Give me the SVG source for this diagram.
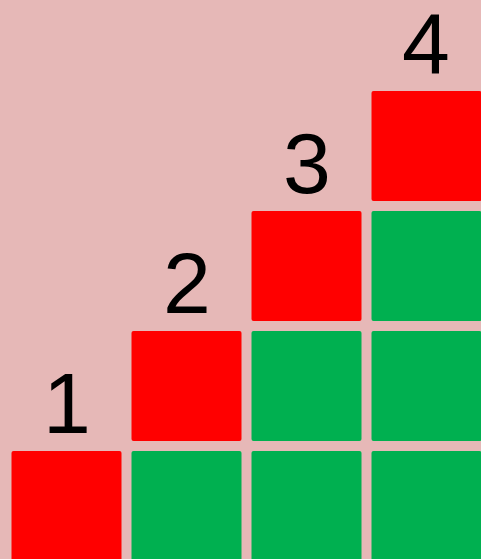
<svg xmlns="http://www.w3.org/2000/svg" width="481" height="559" viewBox="0 0 481 559">
<style>
.r{fill:#FF0000}
.g{fill:#00B050}
.t{font-family:"Liberation Sans",Arial,sans-serif;font-size:86px;fill:#000;text-anchor:middle}
</style>
<rect x="0" y="0" width="481" height="559" fill="#E6B8B7"/>
<g id="col1">
<rect class="r" x="11.5" y="451" width="110" height="110" rx="2"/>
<text class="t" x="67" y="433">1</text>
</g>
<g id="col2">
<rect class="r" x="131.5" y="331" width="110" height="110" rx="2"/>
<rect class="g" x="131.5" y="451" width="110" height="110" rx="2"/>
<text class="t" x="187" y="313">2</text>
</g>
<g id="col3">
<rect class="r" x="251.5" y="211" width="110" height="110" rx="2"/>
<rect class="g" x="251.5" y="331" width="110" height="110" rx="2"/>
<rect class="g" x="251.5" y="451" width="110" height="110" rx="2"/>
<text class="t" x="307" y="193">3</text>
</g>
<g id="col4">
<rect class="r" x="371.5" y="91" width="110" height="110" rx="2"/>
<rect class="g" x="371.5" y="211" width="110" height="110" rx="2"/>
<rect class="g" x="371.5" y="331" width="110" height="110" rx="2"/>
<rect class="g" x="371.5" y="451" width="110" height="110" rx="2"/>
<text class="t" x="426" y="73">4</text>
</g>
<g id="connectors"/>
</svg>
